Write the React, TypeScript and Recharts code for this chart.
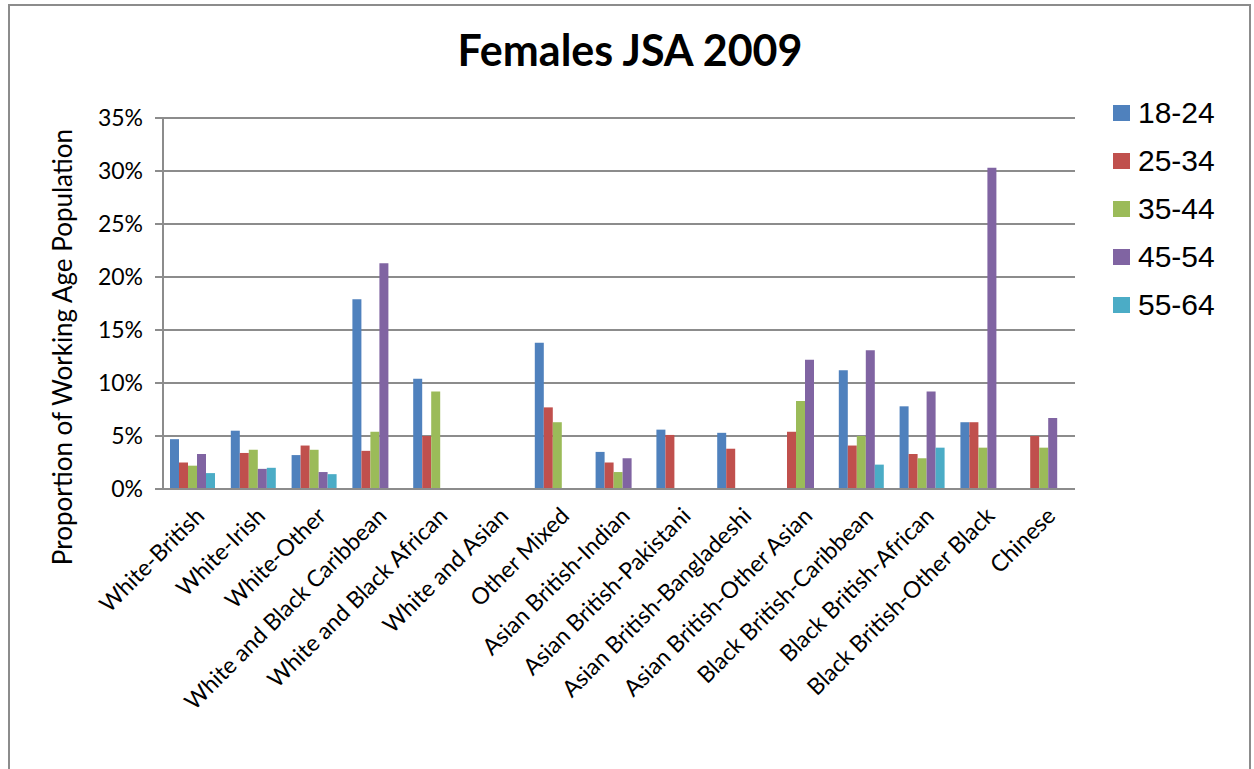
import { Bar, BarChart, CartesianGrid, XAxis, YAxis } from "recharts";

const categories = [
  "White-British",
  "White-Irish",
  "White-Other",
  "White and Black Caribbean",
  "White and Black African",
  "White and Asian",
  "Other Mixed",
  "Asian British-Indian",
  "Asian British-Pakistani",
  "Asian British-Bangladeshi",
  "Asian British-Other Asian",
  "Black British-Caribbean",
  "Black British-African",
  "Black British-Other Black",
  "Chinese",
];

// values in percent, null = no bar
const age18to24 = [4.7, 5.5, 3.2, 17.9, 10.4, null, 13.8, 3.5, 5.6, 5.3, null, 11.2, 7.8, 6.3, null];
const age25to34 = [2.5, 3.4, 4.1, 3.6, 5.0, null, 7.7, 2.5, 5.1, 3.8, 5.4, 4.1, 3.3, 6.3, 5.0];
const age35to44 = [2.2, 3.7, 3.7, 5.4, 9.2, null, 6.3, 1.6, null, null, 8.3, 5.0, 2.9, 3.9, 3.9];
const age45to54 = [3.3, 1.9, 1.6, 21.3, null, null, null, 2.9, null, null, 12.2, 13.1, 9.2, 30.3, 6.7];
const age55to64 = [1.5, 2.0, 1.4, null, null, null, null, null, null, null, null, 2.3, 3.9, null, null];

const yTicks = [0, 5, 10, 15, 20, 25, 30, 35];

const seriesList = [
  { key: "a", name: "18-24", color: "#4F81BD", values: age18to24 },
  { key: "b", name: "25-34", color: "#C0504D", values: age25to34 },
  { key: "c", name: "35-44", color: "#9BBB59", values: age35to44 },
  { key: "d", name: "45-54", color: "#8064A2", values: age45to54 },
  { key: "e", name: "55-64", color: "#4BACC6", values: age55to64 },
];

const data = categories.map((name, i) => {
  const row: Record<string, string | number | null> = { name };
  seriesList.forEach((s) => {
    row[s.key] = s.values[i];
  });
  return row;
});

const FONT = "Lato, 'Open Sans', sans-serif";

function XTick({ x, y, payload }: any) {
  return (
    <g transform={`translate(${x + 1},${y + 9})`}>
      <text
        x={0}
        y={0}
        dy={16}
        textAnchor="end"
        transform="rotate(-45)"
        fontFamily={FONT}
        fontSize={23}
        fill="#000"
      >
        {payload.value}
      </text>
    </g>
  );
}

export default function App() {
  return (
    <div
      style={{
        position: "absolute",
        left: 0,
        top: 0,
        width: 1254,
        height: 769,
        background: "#fff",
        overflow: "hidden",
      }}
    >
      <div
        style={{
          position: "absolute",
          left: 8,
          top: 4,
          width: 1239,
          height: 820,
          border: "2px solid #8c8c8c",
        }}
      />
      <div
        style={{
          position: "absolute",
          left: 0,
          width: 1260,
          top: 24,
          textAlign: "center",
          fontFamily: FONT,
          fontWeight: 700,
          fontSize: 43,
          color: "#000",
        }}
      >
        Females JSA 2009
      </div>
      <div
        style={{
          position: "absolute",
          left: 62,
          top: 347,
          transform: "translate(-50%, -50%) rotate(-90deg)",
          whiteSpace: "nowrap",
          fontFamily: FONT,
          fontSize: 26,
          color: "#000",
        }}
      >
        Proportion of Working Age Population
      </div>
      <div style={{ position: "absolute", left: 0, top: 0 }}>
        <BarChart
          width={1254}
          height={769}
          data={data}
          margin={{ top: 118, right: 179, left: 0, bottom: 0 }}
          barCategoryGap={7}
          barGap={0}
        >
          <CartesianGrid vertical={false} stroke="#8c8c8c" strokeWidth={2} />
          <XAxis
            dataKey="name"
            interval={0}
            height={280}
            tick={<XTick />}
            tickLine={false}
            axisLine={{ stroke: "#8c8c8c", strokeWidth: 2 }}
          />
          <YAxis
            width={163}
            domain={[0, 35]}
            ticks={yTicks}
            tickFormatter={(v) => `${v}%`}
            tickSize={8}
            tickMargin={12}
            tick={{ fontFamily: FONT, fontSize: 23, fill: "#000" }}
            tickLine={{ stroke: "#8c8c8c", strokeWidth: 2 }}
            axisLine={{ stroke: "#8c8c8c", strokeWidth: 2 }}
          />
          {seriesList.map((s) => (
            <Bar
              key={s.key}
              dataKey={s.key}
              name={s.name}
              fill={s.color}
              isAnimationActive={false}
            />
          ))}
        </BarChart>
      </div>
      <div
        style={{
          position: "absolute",
          left: 1113,
          top: 89,
          fontFamily: "'Liberation Sans', Arial, sans-serif",
        }}
      >
        {seriesList.map((s) => (
          <div key={s.key} style={{ display: "flex", alignItems: "center", height: 48 }}>
            <span style={{ width: 17, height: 16, background: s.color, marginRight: 8 }} />
            <span style={{ fontSize: 30, color: "#000" }}>{s.name}</span>
          </div>
        ))}
      </div>
    </div>
  );
}
